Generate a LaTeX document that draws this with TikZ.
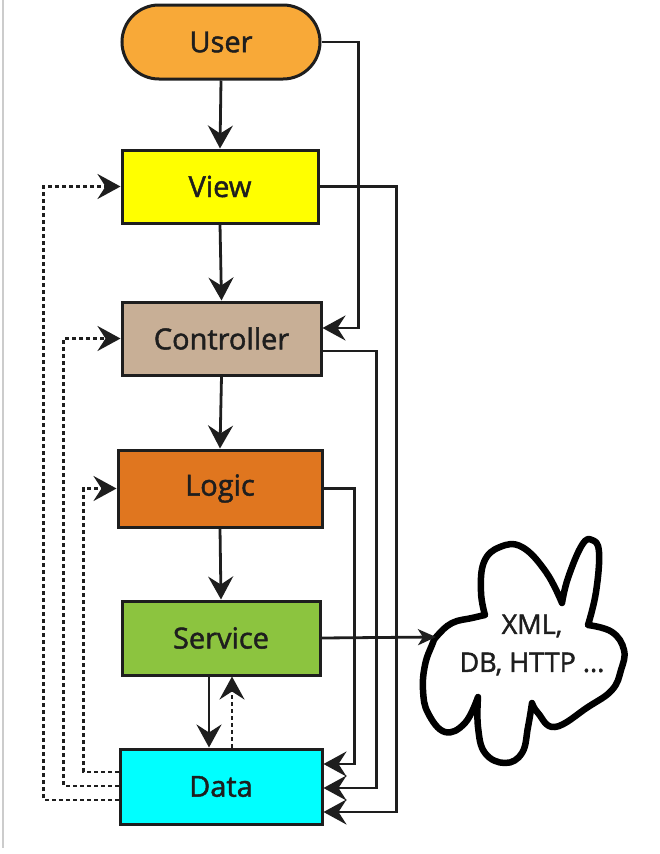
\documentclass[tikz,border=0pt]{standalone}
\usepackage{fontspec}
\setmainfont{Open Sans}
\newfontfamily\lblfont{Open Sans}[FakeBold=1.6]
\usetikzlibrary{arrows.meta,shapes.misc,calc}
\definecolor{userC}{HTML}{F8A938}
\definecolor{viewC}{HTML}{FFFF00}
\definecolor{ctrlC}{HTML}{C8AF96}
\definecolor{logicC}{HTML}{E0761F}
\definecolor{servC}{HTML}{8CC43F}
\definecolor{dataC}{HTML}{00FFFF}
\definecolor{ink}{HTML}{1E1E1E}
\begin{document}
\begin{tikzpicture}[x=1pt,y=-1pt,
  blk/.style={draw=ink,line width=3pt,inner sep=0pt,text=ink,
    font=\lblfont\fontsize{29}{34}\selectfont},
  arr/.style={line width=2.8pt,draw=ink,-{Stealth[length=23pt,width=25pt,inset=8pt]}},
  smallarr/.style={line width=2.8pt,draw=ink,-{Stealth[length=18pt,width=16pt,inset=5pt]}},
  dotarr/.style={arr,dash pattern=on 4pt off 3pt},
  cloudline/.style={line width=6.5pt,draw=black,line join=round},
  cloudtxt/.style={align=center,text=ink,font=\lblfont\fontsize{27}{38}\selectfont}]
\useasboundingbox (0,0) rectangle (660,854);
\draw[line width=1.2pt,black!20] (3,0) -- (3,848);

\node[blk,rounded rectangle,fill=userC,minimum width=198pt,minimum height=74pt] (User) at (221,42) {User};
\node[blk,fill=viewC,minimum width=196pt,minimum height=73pt] (View) at (220,186.5) {View};
\node[blk,fill=ctrlC,minimum width=199pt,minimum height=73pt] (Controller) at (221.5,338.5) {Controller};
\node[blk,fill=logicC,minimum width=204pt,minimum height=77pt] (Logic) at (220,488.5) {Logic};
\node[blk,fill=servC,minimum width=198pt,minimum height=74pt] (Service) at (221,638) {Service};
\node[blk,fill=dataC,minimum width=202pt,minimum height=75pt] (Data) at (221,786.5) {Data};

% cloud
\draw[cloudline]
  plot[smooth,tension=.7] coordinates {(485,615) (481,592) (484,562) (500,547) (522,547) (546,572) (562,603)}
  -- plot[smooth,tension=.7] coordinates {(562,603) (568,578) (582,545) (592,540) (599,552) (596,592) (588,625)}
  -- plot[smooth,tension=.7] coordinates {(588,625) (612,632) (624,650) (621,670) (612,690) (588,707) (555,727) (538,713) (532,703)}
  -- plot[smooth,tension=.7] coordinates {(532,703) (528,727) (522,753) (505,763) (485,753) (478,727) (478,697)}
  -- plot[smooth,tension=.7] coordinates {(478,697) (465,723) (445,732) (428,713) (423,690) (425,665) (432,645) (437,636) (452,623) (472,618) (485,615)}
  -- cycle;
\node[cloudtxt] (cloudtext) at (532,645) {XML,\\DB, HTTP ...};
\coordinate (cloudin) at (436,637);

% main flow
\draw[arr] (User.south) -- (View.north);
\draw[arr] (View.south) -- (Controller.north);
\draw[arr] (Controller.south) -- (Logic.north);
\draw[arr] (Logic.south) -- (Service.north);
\draw[smallarr] (Service.east) -- (cloudin);
\draw[arr] ($(Service.south)+(-12,0)$) -- ($(Data.north)+(-12,0)$);
\draw[dotarr] ($(Data.north)+(11,0)$) -- ($(Service.south)+(11,0)$);

% right side
\draw[arr] (User.east) -- ++(37,0) |- ($(Controller.east)+(0,-10.5)$);
\draw[arr] (View.east) -- ++(77,0) |- ($(Data.east)+(0,25.5)$);
\draw[arr] ($(Controller.east)+(0,12.5)$) -- ++(54,0) |- ($(Data.east)+(0,1.5)$);
\draw[arr] (Logic.east) -- ++(31,0) |- ($(Data.east)+(0,-22.5)$);

% left side (dotted)
\draw[dotarr] ($(Data.west)+(0,13.5)$) -- ++(-75,0) |- (View.west);
\draw[dotarr] ($(Data.west)+(0,-0.5)$) -- ++(-55,0) |- (Controller.west);
\draw[dotarr] ($(Data.west)+(0,-14.5)$) -- ++(-35,0) |- (Logic.west);
\end{tikzpicture}
\end{document}
